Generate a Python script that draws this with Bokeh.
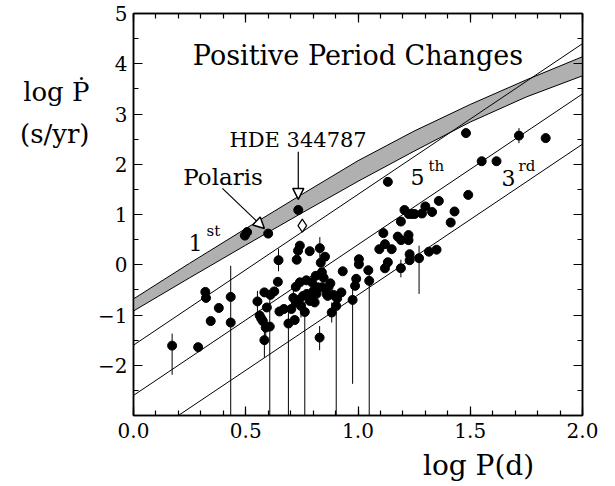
from bokeh.plotting import figure
from bokeh.models import (FixedTicker, LinearAxis, Range1d, Slope, Label, Arrow,
                          NormalHead)
from bokeh.embed import file_html
from bokeh.resources import INLINE

FONT = "DejaVu Serif"

# ---- data ----
logP = [0.172, 0.288, 0.320, 0.323, 0.344, 0.380, 0.433, 0.433, 0.496, 0.506,
        0.600, 0.734,
        0.552, 0.562, 0.569, 0.576, 0.583, 0.583, 0.589, 0.594, 0.607, 0.610,
        0.627, 0.646, 0.643, 0.650, 0.670, 0.690, 0.703, 0.712, 0.718, 0.723,
        0.723, 0.727, 0.733, 0.741, 0.741, 0.737, 0.746, 0.763, 0.770, 0.772,
        0.785, 0.785, 0.795, 0.802, 0.807, 0.812, 0.821, 0.830, 0.834, 0.839,
        0.839, 0.829, 0.847, 0.853, 0.860, 0.869, 0.877, 0.883, 0.891, 0.903,
        0.907, 0.926, 0.932, 0.755, 0.790, 0.815, 0.865,
        0.976, 0.987, 0.992, 1.004, 1.004, 1.046, 1.050, 1.095, 1.113, 1.120,
        1.120, 1.133, 1.133, 1.150, 1.177, 1.191, 1.191, 1.192, 1.207, 1.225,
        1.225, 1.230, 1.230, 1.226, 1.240, 1.252, 1.272, 1.285, 1.300, 1.316,
        1.330, 1.350, 1.360, 1.413, 1.430, 1.481, 1.491, 1.551, 1.617, 1.717,
        1.836]
logPdot = [-1.61, -1.64, -0.54, -0.66, -1.12, -0.86, -0.64, -1.15, 0.58, 0.65,
           0.62, 1.09,
           -0.73, -1.01, -1.07, -1.12, -0.55, -1.50, -1.25, -0.85, -1.23, -0.60,
           -0.53, 0.09, -0.34, -0.93, -0.88, -1.17, -0.88, -0.66, -1.10, -0.75,
           -0.44, 0.10, 0.28, 0.38, -0.35, -0.70, -0.82, -0.94, -0.31, -0.58,
           0.27, -0.72, -0.35, -0.52, -0.75, -0.22, -0.45, 0.33, 0.04, -0.15,
           -0.45, -1.45, -0.26, 0.16, -0.58, -0.44, -0.37, -0.95, -0.60, -0.82,
           -0.67, -0.55, -0.13, -0.62, -0.62, -0.58, -0.62,
           -0.70, -0.42, -0.28, 0.11, 0.01, -0.11, -0.32, 0.31, 0.63, 0.41,
           -0.07, 1.65, 0.05, 0.31, 0.56, 0.86, -0.07, 0.49, 1.09, 0.59,
           0.49, 0.21, 0.09, 1.01, 1.01, 1.01, 0.13, 1.02, 1.16, 0.26,
           1.05, 0.30, 1.27, 0.84, 1.06, 2.62, 1.39, 2.06, 2.06, 2.57,
           2.52]

# vertical error bars
err_x = [0.172, 0.433, 0.583, 0.607, 0.646, 0.552, 0.690, 0.746, 0.763, 0.830,
         0.829, 0.883, 0.903, 0.976, 1.050, 1.272, 1.717, 0.589, 1.191, 0.712]
err_lo = [-2.19, -3.2, -1.85, -3.2, -0.13, -0.95, -3.2, -1.05, -3.2, 0.10,
          -1.70, -1.15, -3.2, -2.37, -3.2, -0.58, 2.42, -1.45, -0.25, -0.90]
err_hi = [-1.37, -0.02, -1.25, -0.60, 0.32, -0.52, -0.85, -0.60, -0.74, 0.55,
          -1.22, -0.75, -0.58, -0.45, -0.11, 0.38, 2.72, -1.05, 0.10, -0.40]

# open diamond
diam_x = [0.752]
diam_y = [0.78]

# grey band
band_x = [0.0, 0.25, 0.5, 0.75, 1.0, 1.25, 1.5, 1.75, 2.0]
band_hi = [-0.68, 0.03, 0.72, 1.40, 2.07, 2.66, 3.19, 3.68, 4.14]
band_lo = [-0.92, -0.26, 0.39, 1.03, 1.66, 2.26, 2.84, 3.34, 3.76]

# straight reference lines
line_slope = 3.0
line_intercepts = [-1.6, -2.6, -3.6]

x_ticks = [0.0, 0.5, 1.0, 1.5, 2.0]
x_tick_labels = ["0.0", "0.5", "1.0", "1.5", "2.0"]
y_ticks = [-2, -1, 0, 1, 2, 3, 4, 5]
y_tick_labels = ["\u22122", "\u22121", "0", "1", "2", "3", "4", "5"]

x_title = "log P(d)"
y_title = ["log \u1e56", "(s/yr)"]

# ---- figure ----
p = figure(width=615, height=486, x_range=Range1d(0, 2), y_range=Range1d(-3, 5),
           output_backend="svg", toolbar_location=None,
           min_border_left=133, min_border_right=33, min_border_top=13,
           min_border_bottom=71)
p.xgrid.visible = False
p.ygrid.visible = False
p.outline_line_color = "black"
p.outline_line_width = 1.5
p.background_fill_color = "white"
p.border_fill_color = "white"

xt = FixedTicker(ticks=x_ticks, minor_ticks=[round(0.1 * i, 1) for i in range(21)])
yt = FixedTicker(ticks=y_ticks, minor_ticks=[-3 + 0.5 * i for i in range(17)])

bottom_ax = p.below[0]
left_ax = p.left[0]
bottom_ax.ticker = xt
left_ax.ticker = yt
bottom_ax.major_label_overrides = {t: l for t, l in zip(x_ticks, x_tick_labels)}
left_ax.major_label_overrides = {t: l for t, l in zip(y_ticks, y_tick_labels)}

top_ax = LinearAxis(ticker=xt)
right_ax = LinearAxis(ticker=yt)
p.add_layout(top_ax, "above")
p.add_layout(right_ax, "right")

for ax in [bottom_ax, left_ax, top_ax, right_ax]:
    ax.major_tick_in = 9
    ax.major_tick_out = 0
    ax.minor_tick_in = 5
    ax.minor_tick_out = 0
    ax.axis_line_color = "black"
    ax.axis_line_width = 1.5
    ax.major_tick_line_color = "black"
    ax.minor_tick_line_color = "black"
    ax.major_tick_line_width = 1.2
    ax.minor_tick_line_width = 1.2
    ax.major_label_text_font = FONT
    ax.major_label_text_font_size = "20px"
    ax.major_label_text_color = "black"
    ax.axis_label = None

bottom_ax.major_label_standoff = 7
left_ax.major_label_standoff = 6
for ax in [top_ax, right_ax]:
    ax.major_label_overrides = {t: "" for t in (x_ticks if ax is top_ax else y_ticks)}
    ax.major_label_text_font_size = "1px"
    ax.major_label_text_color = None
    ax.major_label_standoff = 0

# axis titles: carried by tick-less helper axes so that they sit outside the frame
ytitle_ax = LinearAxis(ticker=FixedTicker(ticks=[3.44, 2.61], minor_ticks=[]))
ytitle_ax.major_label_overrides = {3.44: y_title[0], 2.61: y_title[1]}
xtitle_ax = LinearAxis(ticker=FixedTicker(ticks=[1.537], minor_ticks=[]))
xtitle_ax.major_label_overrides = {1.537: x_title}
for ax in [ytitle_ax, xtitle_ax]:
    ax.axis_line_color = None
    ax.major_tick_line_color = None
    ax.minor_tick_line_color = None
    ax.major_tick_in = 0
    ax.major_tick_out = 0
    ax.minor_tick_in = 0
    ax.minor_tick_out = 0
    ax.major_label_text_font = FONT
    ax.major_label_text_color = "black"
ytitle_ax.major_label_text_font_size = "26px"
xtitle_ax.major_label_text_font_size = "28px"
ytitle_ax.major_label_standoff = 6
xtitle_ax.major_label_standoff = 8
p.add_layout(ytitle_ax, "left")
p.add_layout(xtitle_ax, "below")

# band
p.varea(x=band_x, y1=band_lo, y2=band_hi, fill_color="#b0b0b0")
p.line(band_x, band_lo, line_color="black", line_width=1)
p.line(band_x, band_hi, line_color="black", line_width=1)

# straight lines
for b in line_intercepts:
    p.add_layout(Slope(gradient=line_slope, y_intercept=b, line_color="black",
                       line_width=1))

# error bars and points
p.segment(x0=err_x, y0=err_lo, x1=err_x, y1=err_hi, line_color="black", line_width=1)
p.scatter(logP, logPdot, marker="circle", size=9, fill_color="black",
          line_color="black")
p.scatter(diam_x, diam_y, marker="diamond", size=13, fill_color="white",
          line_color="black", line_width=1.2)

# arrows
p.add_layout(Arrow(x_start=0.734, y_start=2.25, x_end=0.734, y_end=1.30,
                   line_color="black", line_width=1.2,
                   end=NormalHead(size=11, fill_color="white", line_color="black",
                                  line_width=1.5)))
p.add_layout(Arrow(x_start=0.396, y_start=1.52, x_end=0.583, y_end=0.72,
                   line_color="black", line_width=1.2,
                   end=NormalHead(size=11, fill_color="white", line_color="black",
                                  line_width=1.5)))


def lab(x, y, text, size, align="center"):
    p.add_layout(Label(x=x, y=y, text=text, text_font=FONT,
                       text_font_size=size, text_align=align,
                       text_baseline="alphabetic", text_color="black"))


lab(1.0, 4.16, "Positive Period Changes", "27px")
lab(0.733, 2.49, "HDE 344787", "21px")
lab(0.399, 1.75, "Polaris", "23px")
lab(0.245, 0.44, "1", "22px", "left")
lab(0.325, 0.68, "st", "15px", "left")
lab(1.234, 1.75, "5", "22px", "left")
lab(1.314, 1.97, "th", "15px", "left")
lab(1.639, 1.73, "3", "22px", "left")
lab(1.715, 1.97, "rd", "15px", "left")

open("out.html", "w").write(file_html(p, INLINE))
